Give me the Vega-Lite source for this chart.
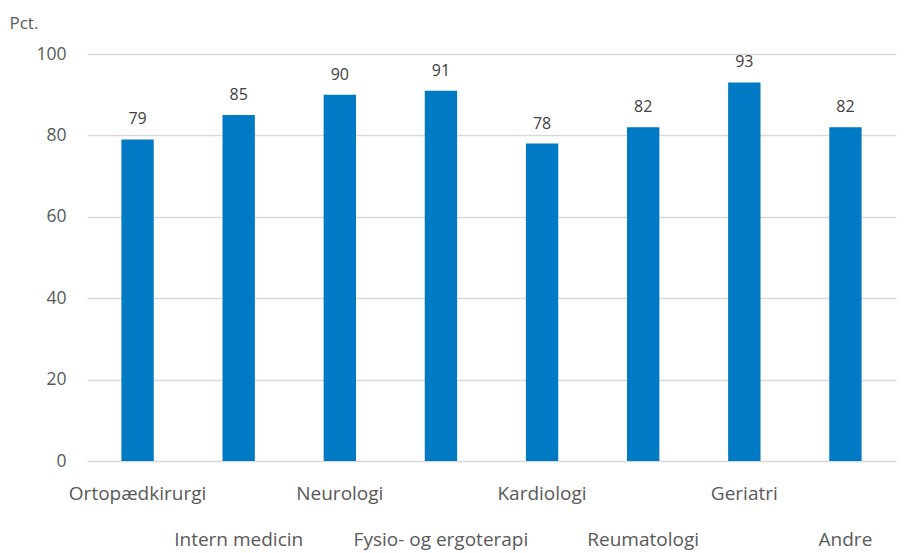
{
  "$schema": "https://vega.github.io/schema/vega-lite/v6.json",
  "width": 809,
  "height": 407,
  "autosize": {"type": "none"},
  "padding": {"left": 87, "top": 54, "right": 10, "bottom": 92},
  "background": "white",
  "config": {
    "view": {"stroke": null},
    "font": "Open Sans",
    "text": {"font": "Open Sans"}
  },
  "data": {
    "values": [
      {"kategori": "Ortopædkirurgi", "pct": 79},
      {"kategori": "Intern medicin", "pct": 85},
      {"kategori": "Neurologi", "pct": 90},
      {"kategori": "Fysio- og ergoterapi", "pct": 91},
      {"kategori": "Kardiologi", "pct": 78},
      {"kategori": "Reumatologi", "pct": 82},
      {"kategori": "Geriatri", "pct": 93},
      {"kategori": "Andre", "pct": 82}
    ]
  },
  "encoding": {
    "x": {
      "field": "kategori",
      "type": "nominal",
      "sort": null,
      "scale": {"paddingInner": 0.68, "paddingOuter": 0.34},
      "axis": {
        "title": null,
        "domain": false,
        "ticks": false,
        "labelAngle": 0,
        "labelFont": "Open Sans",
        "labelFontSize": 19,
        "labelColor": "#595959",
        "labelPadding": 23,
        "labelBaseline": "top",
        "labelLineHeight": 46,
        "labelExpr": "indexof(['Intern medicin','Fysio- og ergoterapi','Reumatologi','Andre'], datum.value) >= 0 ? ['', datum.label] : datum.label"
      }
    },
    "y": {
      "field": "pct",
      "type": "quantitative",
      "scale": {"domain": [0, 100]},
      "axis": {
        "title": "Pct.",
        "titleAngle": 0,
        "titleAlign": "left",
        "titleBaseline": "middle",
        "titleX": -78,
        "titleY": -31,
        "titleFont": "Open Sans",
        "titleFontSize": 17,
        "titleFontWeight": "normal",
        "titleColor": "#595959",
        "values": [0, 20, 40, 60, 80, 100],
        "domain": false,
        "ticks": false,
        "grid": true,
        "gridColor": "#d9d9d9",
        "gridWidth": 1.5,
        "labelFont": "Open Sans",
        "labelFontSize": 17.5,
        "labelColor": "#595959",
        "labelPadding": 21
      }
    }
  },
  "layer": [
    {"mark": {"type": "bar", "color": "#007AC4"}},
    {
      "mark": {"type": "text", "baseline": "bottom", "dy": -12, "fontSize": 16, "color": "#404040", "font": "Open Sans"},
      "encoding": {"text": {"field": "pct", "type": "quantitative"}}
    }
  ]
}
